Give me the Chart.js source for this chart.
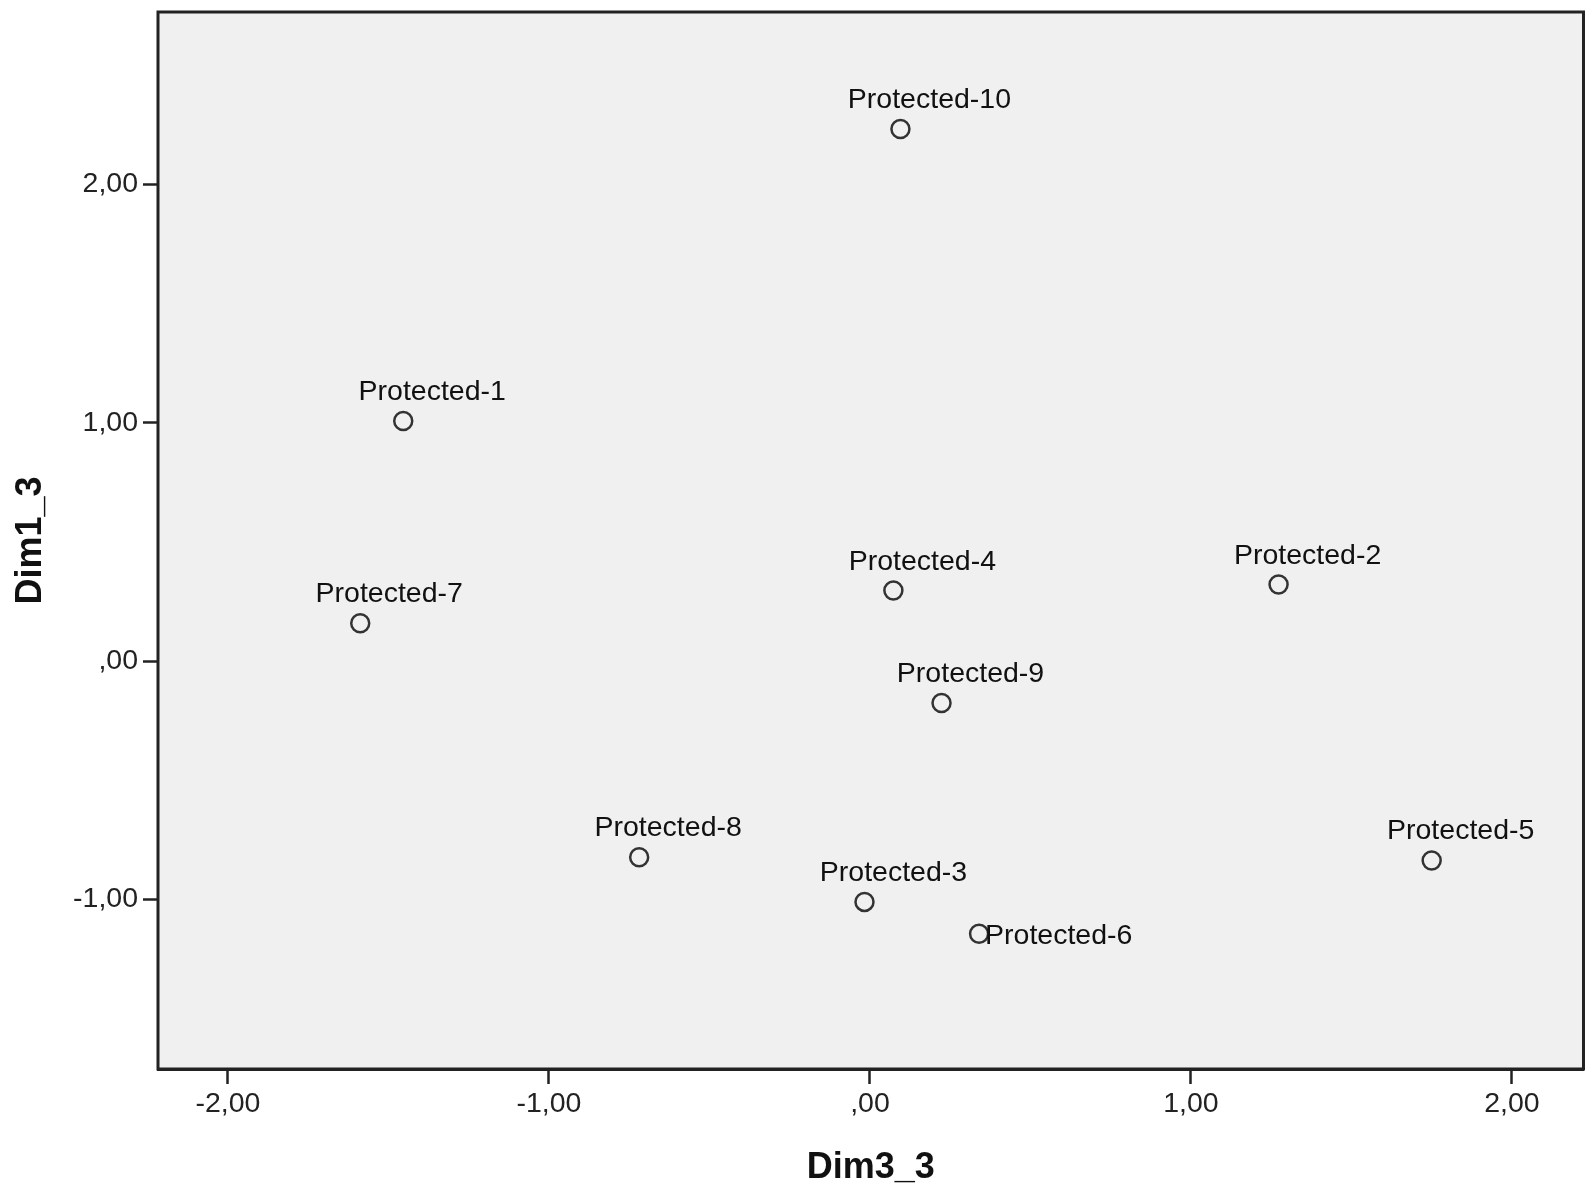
<!DOCTYPE html>
<html>
<head>
<meta charset="utf-8">
<script src="https://cdn.jsdelivr.net/npm/chart.js@4.4.1/dist/chart.umd.min.js"></script>
<style>
  html, body { margin: 0; padding: 0; background: #fff; }
  #wrap { width: 1595px; height: 1198px; position: relative; }
</style>
</head>
<body>
<div id="wrap"><canvas id="chart"></canvas></div>
<script>
const pointNames = ['Protected-1', 'Protected-2', 'Protected-3', 'Protected-4', 'Protected-5',
  'Protected-6', 'Protected-7', 'Protected-8', 'Protected-9', 'Protected-10'];
const dim3Values = [-1.454, 1.273, -0.017, 0.073, 1.750, 0.340, -1.588, -0.719, 0.223, 0.095];
const dim1Values = [1.007, 0.321, -1.010, 0.296, -0.836, -1.144, 0.159, -0.823, -0.176, 2.232];
const xTickValues = [-2, -1, 0, 1, 2];
const yTickValues = [-1, 0, 1, 2];

const FONT = '"Liberation Sans", Arial, sans-serif';

// SPSS style numbers: comma decimal, no leading zero
const fmt = v => {
  let s = Math.abs(v).toFixed(2).replace('.', ',');
  if (s.startsWith('0')) s = s.slice(1);
  return (v < 0 ? '-' : '') + s;
};

const plotFrame = {
  id: 'plotFrame',
  beforeDatasetsDraw(chart) {
    const { ctx, chartArea: a } = chart;
    ctx.save();
    ctx.fillStyle = '#f0f0f0';
    ctx.fillRect(a.left, a.top, a.right - a.left, a.bottom - a.top);
    ctx.restore();
  },
  afterDraw(chart) {
    const { ctx, chartArea: a } = chart;
    ctx.save();
    ctx.strokeStyle = '#222';
    ctx.lineWidth = 3;
    ctx.strokeRect(a.left, a.top, a.right - a.left, a.bottom - a.top);
    ctx.restore();
  }
};

const pointLabels = {
  id: 'pointLabels',
  afterDatasetsDraw(chart, args, opts) {
    const { ctx } = chart;
    const meta = chart.getDatasetMeta(0);
    ctx.save();
    ctx.font = '28.5px ' + FONT;
    ctx.fillStyle = '#111';
    ctx.textBaseline = 'alphabetic';
    meta.data.forEach((pt, i) => {
      const name = pointNames[i];
      if (opts.onRight.includes(name)) {
        ctx.textAlign = 'left';
        ctx.fillText(name, pt.x + 6, pt.y + 10);
      } else {
        ctx.textAlign = 'center';
        ctx.fillText(name, pt.x + 29, pt.y - 21);
      }
    });
    ctx.restore();
  }
};

new Chart(document.getElementById('chart'), {
  type: 'scatter',
  data: {
    datasets: [{
      data: dim3Values.map((x, i) => ({ x: x, y: dim1Values[i] })),
      pointRadius: 9,
      pointBorderWidth: 2.5,
      pointBorderColor: '#333',
      pointBackgroundColor: 'rgba(0,0,0,0)'
    }]
  },
  options: {
    responsive: true,
    maintainAspectRatio: false,
    animation: false,
    layout: { padding: { left: 0, top: 12, right: 11, bottom: 0 } },
    plugins: {
      legend: { display: false },
      tooltip: { enabled: false },
      pointLabels: { onRight: ['Protected-6'] }
    },
    scales: {
      x: {
        type: 'linear',
        min: -2.218,
        max: 2.223,
        afterBuildTicks: s => { s.ticks = xTickValues.map(v => ({ value: v })); },
        afterFit: s => { s.height = 129; s.paddingLeft = 0; s.paddingRight = 0; },
        grid: { drawOnChartArea: false, drawTicks: true, tickLength: 15, tickColor: '#222', tickWidth: 2.5 },
        border: { display: true, color: '#222', width: 3 },
        ticks: {
          padding: 3,
          color: '#222',
          font: { family: FONT, size: 28.5 },
          maxRotation: 0,
          callback: v => fmt(v)
        },
        title: {
          display: true,
          text: 'Dim3_3',
          color: '#111',
          font: { family: FONT, size: 36, weight: 'bold' },
          padding: { top: 0, bottom: 8 }
        }
      },
      y: {
        type: 'linear',
        min: -1.711,
        max: 2.723,
        afterBuildTicks: s => { s.ticks = yTickValues.map(v => ({ value: v })); },
        afterFit: s => { s.width = 158; s.paddingTop = 0; s.paddingBottom = 0; },
        grid: { drawOnChartArea: false, drawTicks: true, tickLength: 15, tickColor: '#222', tickWidth: 2.5 },
        border: { display: true, color: '#222', width: 3 },
        ticks: {
          padding: 5,
          color: '#222',
          font: { family: FONT, size: 28.5 },
          callback: v => fmt(v)
        },
        title: {
          display: true,
          text: 'Dim1_3',
          color: '#111',
          font: { family: FONT, size: 36, weight: 'bold' },
          padding: { top: 9, bottom: 0 }
        }
      }
    }
  },
  plugins: [plotFrame, pointLabels]
});
</script>
</body>
</html>
